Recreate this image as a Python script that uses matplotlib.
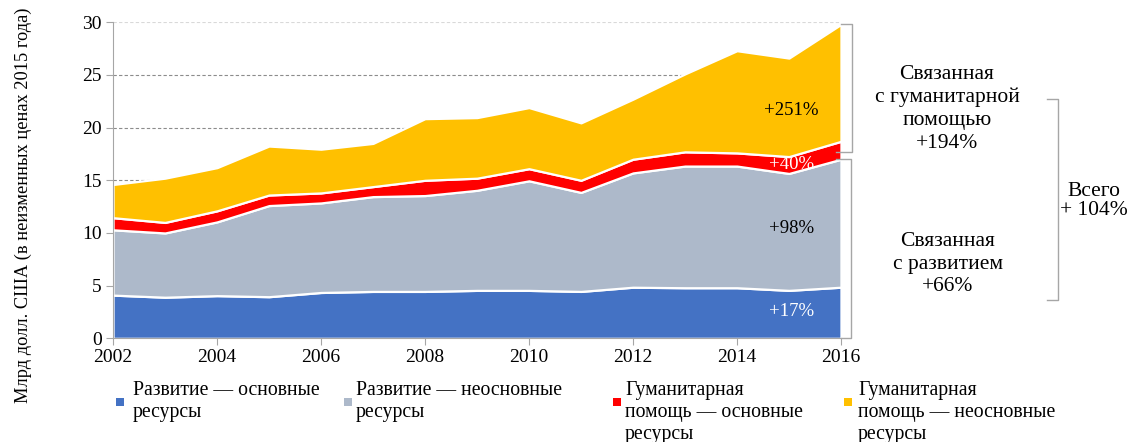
import numpy as np
import matplotlib
matplotlib.use("Agg")
import matplotlib.pyplot as plt
from matplotlib.patches import Rectangle

plt.rcParams['font.family'] = ['Liberation Serif', 'DejaVu Serif']

# данные (млрд долл. США, в ценах 2015 года)
years = list(range(2002, 2017))
dev_core = [4.1, 3.9, 4.05, 3.95, 4.35, 4.45, 4.45, 4.55, 4.55, 4.45, 4.85, 4.8, 4.8, 4.55, 4.85]
dev_noncore = [6.2, 6.1, 7.0, 8.65, 8.5, 9.0, 9.1, 9.5, 10.4, 9.4, 10.85, 11.55, 11.55, 11.1, 12.15]
hum_core = [1.15, 1.0, 1.05, 1.0, 0.95, 0.95, 1.45, 1.15, 1.15, 1.15, 1.3, 1.35, 1.25, 1.6, 1.7]
hum_noncore = [3.15, 4.2, 4.1, 4.65, 4.15, 4.1, 5.85, 5.75, 5.8, 5.45, 5.7, 7.4, 9.7, 9.35, 11.1]

labels = ["Развитие — основные\nресурсы",
          "Развитие — неосновные\nресурсы",
          "Гуманитарная\nпомощь — основные\nресурсы",
          "Гуманитарная\nпомощь — неосновные\nресурсы"]
colors = ["#4472C4", "#ADB9CA", "#FF0000", "#FFC000"]

fig = plt.figure(figsize=(11.27, 4.42), dpi=100)
ax = fig.add_axes([0.1003, 0.2346, 0.6459, 0.715])

# сетка за областями
for v in [5, 10, 15, 20, 25]:
    ax.axhline(v, color="#8C8C8C", linestyle=(0, (3, 2)), linewidth=0.8, zorder=0)
ax.axhline(30, color="#D9D9D9", linestyle=(0, (3, 2)), linewidth=0.8, zorder=0)

ax.stackplot(years, dev_core, dev_noncore, hum_core, hum_noncore,
             colors=colors, edgecolor="white", linewidth=1.6, zorder=2)

ax.set_xlim(2002, 2016)
ax.set_ylim(0, 30)
ax.set_xticks(range(2002, 2017, 2))
ax.set_yticks(range(0, 31, 5))
ax.tick_params(axis="both", direction="out", length=5, color="#A6A6A6",
               labelsize=14, pad=3)
for s in ["top", "right"]:
    ax.spines[s].set_visible(False)
for s in ["left", "bottom"]:
    ax.spines[s].set_color("#A6A6A6")
ax.set_ylabel("Млрд долл. США (в неизменных ценах 2015 года)", fontsize=13.2)
ax.yaxis.set_label_coords(-0.112, 0.42)

# подписи процентов
ax.text(2015.05, 21.6, "+251%", ha="center", va="center", fontsize=13.5, color="black", zorder=5)
ax.text(2015.05, 16.5, "+40%", ha="center", va="center", fontsize=13.5, color="white", zorder=5)
ax.text(2015.05, 10.4, "+98%", ha="center", va="center", fontsize=13.5, color="black", zorder=5)
ax.text(2015.05, 2.5, "+17%", ha="center", va="center", fontsize=13.5, color="white", zorder=5)

# скобки
br = dict(color="#A6A6A6", linewidth=1.0, clip_on=False, zorder=6)
ax.plot([2016.0, 2016.22, 2016.22, 2015.9], [29.85, 29.85, 17.7, 17.7], **br)
ax.plot([2015.9, 2016.2, 2016.2, 2016.0], [17.05, 17.05, 0.0, 0.0], **br)
ax.plot([2019.96, 2020.17, 2020.17, 2019.96], [22.7, 22.7, 3.65, 3.65], **br)

fig.text(947 / 1127, 1 - 109 / 442, "Связанная\nс гуманитарной\nпомощью\n+194%",
         ha="center", va="center", fontsize=15.5, linespacing=1.28)
fig.text(948 / 1127, 1 - 264 / 442, "Связанная\nс развитием\n+66%",
         ha="center", va="center", fontsize=15.5, linespacing=1.28)
fig.text(1094 / 1127, 1 - 201 / 442, "Всего\n+ 104%",
         ha="center", va="center", fontsize=15.5, linespacing=1.05)

# легенда
leg_sq = [120, 348, 617, 848]
leg_tx = [133, 356, 625, 858]
for i in range(4):
    fig.add_artist(Rectangle(((leg_sq[i] - 4) / 1127, 1 - 406 / 442), 8 / 1127, 8 / 442,
                             transform=fig.transFigure, facecolor=colors[i], edgecolor="none"))
    fig.text(leg_tx[i] / 1127, 1 - 381 / 442, labels[i], ha="left", va="top",
             fontsize=14.2, linespacing=1.2)

fig.savefig("out.png", dpi=100)
